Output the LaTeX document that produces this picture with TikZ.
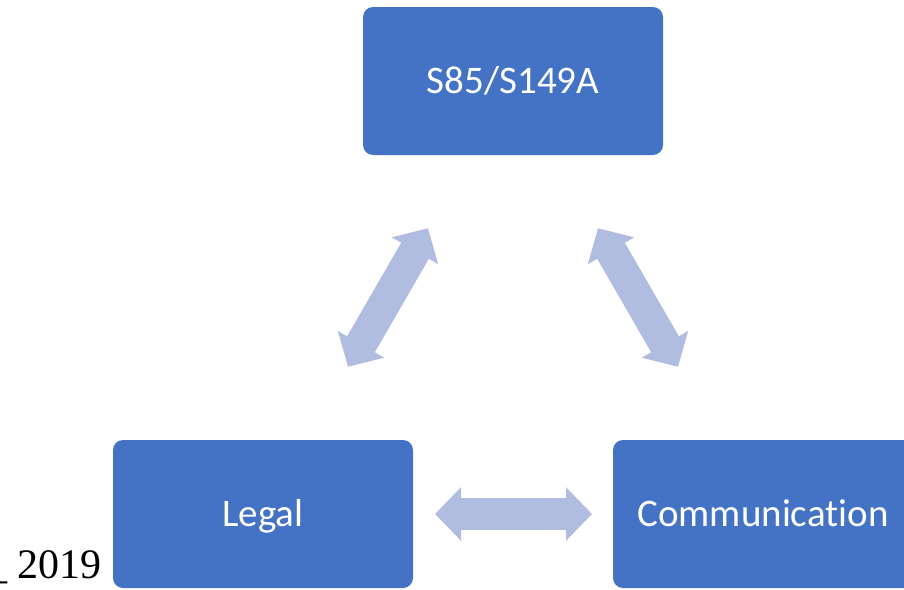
\documentclass[tikz,border=0pt]{standalone}
\usepackage{fontspec}
\setmainfont{Carlito}[Ligatures=NoCommon]
\newfontfamily\timesfont{Liberation Serif}
\usetikzlibrary{calc,arrows.meta}
\definecolor{boxblue}{RGB}{68,114,196}
\definecolor{arrowblue}{RGB}{176,189,224}

\begin{document}
\begin{tikzpicture}[x=1pt,y=-1pt,
    box/.style={fill=boxblue, rounded corners=10pt, minimum width=300pt, minimum height=148pt, inner sep=0pt, text=white, font=\fontsize{39}{47}\selectfont, text height=25pt, text depth=0pt},
    link/.style={arrowblue, line width=32pt, {Triangle[length=26pt,width=52pt]}-{Triangle[length=26pt,width=52pt]}}]
            \clip (0,0) rectangle (904,589);
            \node[box] (S) at (513,81) {S85/S149A};
            \node[box] (L) at (263,514) {Legal};
            \node[box] (C) at (763,514) {Communication};
            \node[anchor=base west, inner sep=0pt, font=\timesfont\fontsize{42}{50}\selectfont] (Y) at (-14,578) {\_ 2019};
            \draw[link] ($(L)!0.34!(S)$) -- ($(L)!0.66!(S)$);
            \draw[link] ($(C)!0.34!(S)$) -- ($(C)!0.66!(S)$);
            \draw[link] ($(L)!0.344!(C)$) -- ($(L)!0.658!(C)$);
        \end{tikzpicture}
\end{document}
